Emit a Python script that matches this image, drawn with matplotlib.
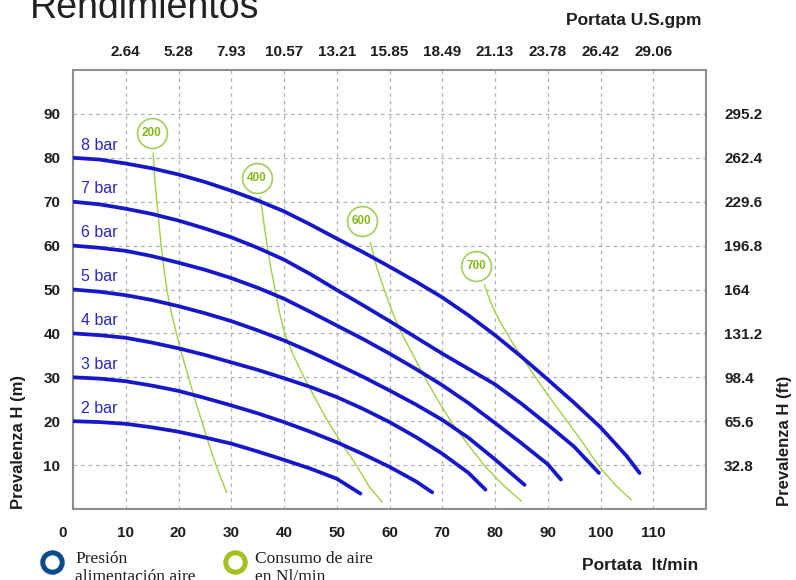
import matplotlib.pyplot as plt
import matplotlib.transforms as mtransforms
from matplotlib.lines import Line2D

plt.rcParams['font.family'] = ['Liberation Sans', 'DejaVu Sans']

# pressure curves: flow (lt/min) vs head (m)
bars = ["2 bar", "3 bar", "4 bar", "5 bar", "6 bar", "7 bar", "8 bar"]
q_2 = [0, 5, 10, 15, 20, 25, 30, 35, 40, 45, 50, 54.5]
h_2 = [20, 19.8, 19.4, 18.6, 17.6, 16.3, 14.9, 13.1, 11.2, 9.2, 6.9, 3.5]
q_3 = [0, 5, 10, 15, 20, 25, 30, 35, 40, 45, 50, 55, 60, 65, 68.1]
h_3 = [30, 29.7, 29.1, 28.1, 26.9, 25.3, 23.6, 21.8, 19.8, 17.6, 15.2, 12.5,
       9.6, 6.3, 3.8]
q_4 = [0, 5, 10, 15, 20, 25, 30, 35, 40, 45, 50, 55, 60, 65, 70, 75, 78.2]
h_4 = [40, 39.6, 39, 37.9, 36.6, 35.1, 33.4, 31.7, 29.8, 27.8, 25.5, 22.8,
       19.8, 16.4, 12.6, 8.2, 4.4]
q_5 = [0, 5, 10, 15, 20, 25, 30, 35, 40, 45, 50, 55, 60, 65, 70, 75, 80, 85.6]
h_5 = [50, 49.5, 48.7, 47.6, 46.2, 44.6, 42.8, 40.7, 38.4, 35.8, 33, 30.1,
       27, 23.8, 20.3, 16.2, 11.3, 5.5]
q_6 = [0, 5, 10, 15, 20, 25, 30, 35, 40, 45, 50, 55, 60, 65, 70, 75, 80, 85,
       90, 92.5]
h_6 = [60, 59.5, 58.8, 57.6, 56.1, 54.5, 52.6, 50.4, 47.9, 44.9, 41.8, 38.7,
       35.4, 31.9, 28.2, 24.1, 19.6, 15, 10.2, 6.7]
q_7 = [0, 5, 10, 15, 20, 25, 30, 35, 40, 45, 50, 55, 60, 65, 70, 75, 80, 85,
       90, 95, 99.7]
h_7 = [70, 69.4, 68.4, 67.2, 65.7, 63.9, 61.9, 59.5, 56.8, 53.5, 49.9, 46.4,
       42.8, 39.1, 35.4, 31.9, 28.4, 24, 19.2, 14.2, 8.2]
q_8 = [0, 5, 10, 15, 20, 25, 30, 35, 40, 45, 50, 55, 60, 65, 70, 75, 80, 85,
       90, 95, 100, 105, 107.4]
h_8 = [80, 79.6, 78.7, 77.6, 76.2, 74.5, 72.5, 70.3, 67.8, 64.8, 61.6, 58.5,
       55.2, 51.8, 48.2, 44.1, 39.6, 34.7, 29.5, 24.2, 18.6, 12, 8.2]
flows = [q_2, q_3, q_4, q_5, q_6, q_7, q_8]
heads = [h_2, h_3, h_4, h_5, h_6, h_7, h_8]

# air consumption lines (Nl/min)
air = ["200", "400", "600", "700"]
air_q = [
    [15.2, 15.5, 15.9, 16.3, 16.7, 17.2, 17.8, 18.6, 19.6, 20.7, 21.9, 23.1,
     24.4, 25.7, 27.1, 29.1],
    [35.5, 36.2, 36.8, 37.5, 38.3, 39.1, 40.1, 41.8, 43.8, 46.0, 48.3, 50.9,
     53.7, 56.2, 58.6],
    [56.4, 57.6, 59.0, 60.5, 62.3, 64.5, 66.9, 69.3, 71.9, 75.0, 78.2, 81.5,
     85.0],
    [78.0, 79.2, 80.8, 83.5, 87.1, 90.3, 93.5, 96.7, 99.8, 102.8, 105.8],
]
air_h = [
    [81, 75, 70, 65, 60, 55, 50, 45, 40, 35, 30, 25, 20, 15, 10, 3.8],
    [71, 65, 60, 55, 50, 45, 40, 35, 30, 25, 20, 15, 10, 5, 1.6],
    [60.7, 55, 50, 45, 40, 35, 29.5, 24.5, 19.5, 14.5, 9.6, 5.5, 1.8],
    [51, 47, 43, 37.5, 31, 25.5, 20.3, 15, 9.6, 5.5, 2.1],
]
bubble_q = [14.9, 34.9, 54.7, 76.4]
bubble_h = [85.7, 75.5, 65.6, 55.3]

x_ticks = [0, 10, 20, 30, 40, 50, 60, 70, 80, 90, 100, 110]
gpm_ticks = [10, 20, 30, 40, 50, 60, 70, 80, 90, 100, 110]
gpm_labels = ["2.64", "5.28", "7.93", "10.57", "13.21", "15.85", "18.49",
              "21.13", "23.78", "26.42", "29.06"]
y_ticks = [10, 20, 30, 40, 50, 60, 70, 80, 90]
ft_labels = ["32.8", "65.6", "98.4", "131.2", "164", "196.8", "229.6",
             "262.4", "295.2"]

blue = "#1717c9"
green = "#a3cf44"
tick_col = "#1e1e1e"
tsize = 11

fig = plt.figure(figsize=(7.96, 5.80), dpi=100)
ax = fig.add_axes([73 / 796, 1 - 509 / 580, 633 / 796, 439 / 580])
ax.set_xlim(0, 120)
ax.set_ylim(0, 100)

for q, h in zip(air_q, air_h):
    ax.plot(q, h, color=green, lw=1.0, zorder=2)
for q, h, lab in zip(bubble_q, bubble_h, air):
    ax.plot([q], [h], marker="o", ms=21.5, mfc="white", mec="#a6cc5a", mew=1.2,
            zorder=3)
    ax.text(q, h, lab, color="#86b81c", fontsize=8.5, fontweight="bold",
            ha="center", va="center", zorder=4)

for q, h, lab in zip(flows, heads, bars):
    ax.plot(q, h, color=blue, lw=2.7, solid_capstyle="round", zorder=5)
    ax.text(1.6, h[0] + 2.9, lab, color="#2626c4", fontsize=11.5,
            ha="left", va="center", zorder=6)

ax.set_xticks(x_ticks)
ax.set_yticks(y_ticks)
ax.grid(True, ls=(0, (3, 3)), color="#b4b4b4", lw=0.9, zorder=0)
ax.tick_params(length=0, labelsize=tsize, labelcolor=tick_col)
ax.tick_params(axis="x", pad=12)
ax.tick_params(axis="y", pad=9)
for lab in ax.get_xticklabels() + ax.get_yticklabels():
    lab.set_fontweight("bold")
# the 0 label sits a little left of the axis in the original
zero = ax.get_xticklabels()[0]
zero.set_transform(zero.get_transform() +
                   mtransforms.ScaledTranslation(-10 / 100, 0, fig.dpi_scale_trans))
for s in ax.spines.values():
    s.set_color("#8e8e8e")
    s.set_linewidth(1.5)

top = ax.secondary_xaxis("top")
top.set_xticks(gpm_ticks, gpm_labels)
top.tick_params(length=0, pad=8, labelsize=tsize, labelcolor=tick_col)
top.spines["top"].set_visible(False)
for lab in top.get_xticklabels():
    lab.set_fontweight("bold")

right = ax.secondary_yaxis("right")
right.set_yticks(y_ticks, ft_labels)
right.tick_params(length=0, pad=13, labelsize=tsize, labelcolor=tick_col)
right.spines["right"].set_visible(False)
for lab in right.get_yticklabels():
    lab.set_fontweight("bold")

fig.text(30 / 796, 1 - 18 / 580, "Rendimientos", fontsize=27, color="#222222",
         ha="left", va="baseline")
fig.text(702 / 796, 1 - 21 / 580, "Portata U.S.gpm", fontsize=12.5,
         fontweight="bold", color=tick_col, ha="right", va="center")
fig.text(698 / 796, 1 - 565 / 580, "Portata  lt/min", fontsize=12.5,
         fontweight="bold", color=tick_col, ha="right", va="center")
fig.text(19 / 796, 1 - 442 / 580, "Prevalenza H (m)", fontsize=12,
         fontweight="bold", color=tick_col, rotation=90, ha="center", va="center")
fig.text(784 / 796, 1 - 441 / 580, "Prevalenza H (ft)", fontsize=12,
         fontweight="bold", color=tick_col, rotation=90, ha="center", va="center")

# legend rings at the bottom
fig.add_artist(Line2D([52 / 796], [1 - 562 / 580], transform=fig.transFigure,
                      marker="o", ms=14, mfc="white", mec="#0b4a8b", mew=3.6))
fig.add_artist(Line2D([235 / 796], [1 - 562 / 580], transform=fig.transFigure,
                      marker="o", ms=14, mfc="white", mec="#a7bf1f", mew=3.6))
serif = ["Liberation Serif", "DejaVu Serif"]
fig.text(75 / 796, 1 - 563 / 580, "Presión", fontsize=12.5, family=serif,
         color="#1e1e1e", ha="left", va="baseline")
fig.text(75 / 796, 1 - 581 / 580, "alimentación aire", fontsize=12.5,
         family=serif, color="#1e1e1e", ha="left", va="baseline")
fig.text(255 / 796, 1 - 563 / 580, "Consumo de aire", fontsize=12.5,
         family=serif, color="#1e1e1e", ha="left", va="baseline")
fig.text(255 / 796, 1 - 581 / 580, "en Nl/min", fontsize=12.5, family=serif,
         color="#1e1e1e", ha="left", va="baseline")

fig.savefig("out.png", dpi=100)
